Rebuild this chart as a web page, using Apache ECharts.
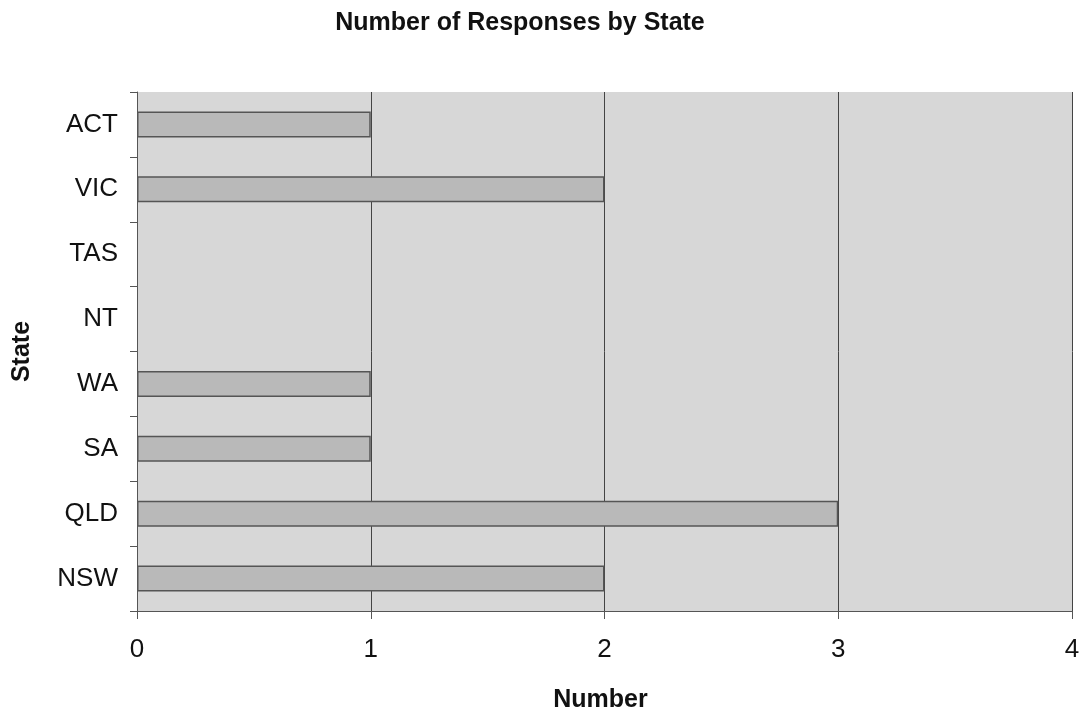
<!DOCTYPE html>
<html><head><meta charset="utf-8">
<script src="https://cdn.jsdelivr.net/npm/echarts@6/dist/echarts.min.js"></script>
<style>html,body{margin:0;padding:0;background:#fff}#c{width:1082px;height:714px}</style>
</head><body><div id="c"></div>
<script>
const categories = ['NSW','QLD','SA','WA','NT','TAS','VIC','ACT'];
const responses = [2,3,1,1,0,0,2,1];
const xTicks = [0,1,2,3,4];

const FONT = '"Liberation Sans", Arial, sans-serif';
const chart = echarts.init(document.getElementById('c'));
chart.setOption({
  animation: false,
  backgroundColor: '#ffffff',
  title: {
    text: 'Number of Responses by State',
    left: 515, top: 6, textAlign: 'center',
    textStyle: {fontFamily: FONT, fontWeight: 'bold', fontSize: 25, color: '#111'}
  },
  grid: {left: 137, right: 10, top: 92, bottom: 103, outerBoundsMode: 'none', containLabel: false,
    show: true, backgroundColor: '#d7d7d7', borderWidth: 0},
  xAxis: {
    type: 'value', min: xTicks[0], max: xTicks[xTicks.length-1], interval: 1,
    name: 'Number', nameLocation: 'middle', nameGap: 77,
    nameTextStyle: {fontFamily: FONT, fontWeight: 'bold', fontSize: 25, color: '#111', padding: [0,8,0,0]},
    axisLine: {show: true, lineStyle: {color: '#555', width: 1}},
    axisTick: {show: true, length: 8, lineStyle: {color: '#555'}},
    axisLabel: {fontFamily: FONT, fontSize: 26, color: '#111', margin: 26,
      formatter: v => xTicks.includes(v) ? String(v) : ''},
    splitLine: {show: true, lineStyle: {color: '#444', width: 1}}
  },
  yAxis: {
    type: 'category', data: categories,
    name: 'State', nameLocation: 'middle', nameGap: 102, nameRotate: 90,
    nameTextStyle: {fontFamily: FONT, fontWeight: 'bold', fontSize: 25, color: '#111'},
    axisLine: {show: true, lineStyle: {color: '#555', width: 1}},
    axisTick: {show: true, length: 7, lineStyle: {color: '#555'}},
    axisLabel: {fontFamily: FONT, fontSize: 26, color: '#111', margin: 19},
    splitLine: {show: false}
  },
  series: [{
    type: 'bar', barWidth: 26,
    data: responses.map(v => v === 0 ? {value: v, itemStyle: {borderWidth: 0}} : v),
    itemStyle: {color: '#b9b9b9', borderColor: '#555', borderWidth: 1.5}
  }]
});
</script></body></html>
